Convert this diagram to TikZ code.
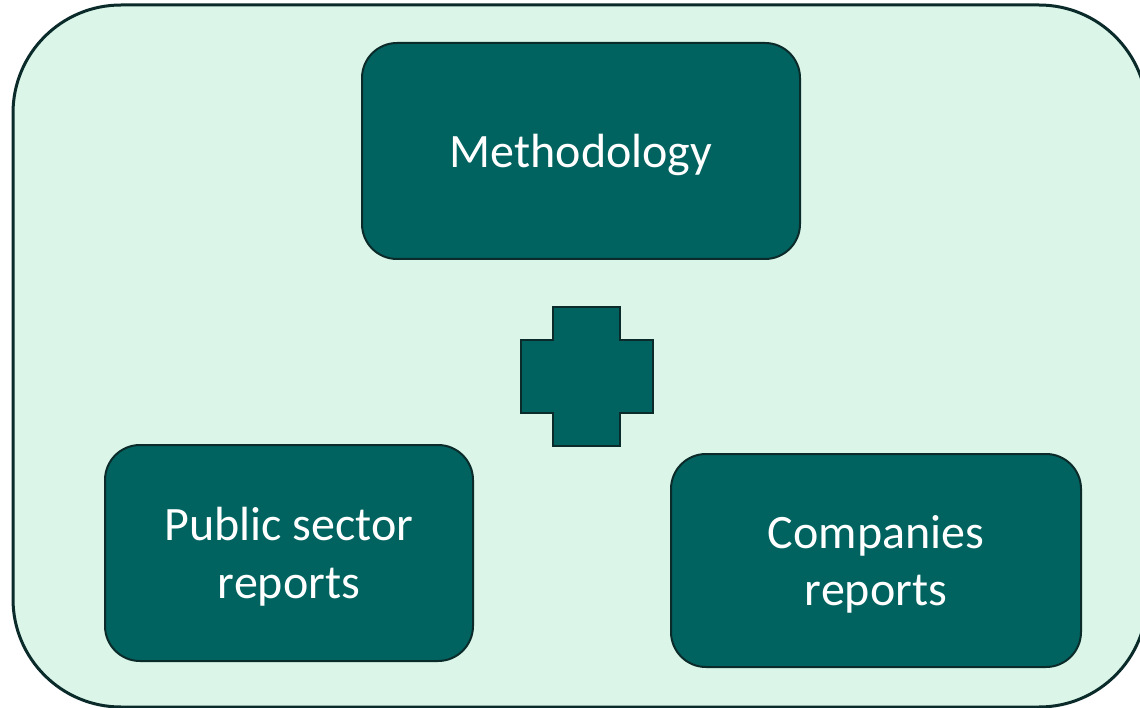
\documentclass[tikz,border=0pt]{standalone}
\usepackage{fontspec}
\setmainfont{Carlito}
\definecolor{teal}{HTML}{00635F}
\definecolor{edge}{HTML}{0B2B2B}
\definecolor{mint}{HTML}{DBF6E9}
\tikzset{
  box/.style={draw=edge, line width=2pt, fill=teal, rounded corners=35pt,
    text=white, align=center, inner sep=0pt, text depth=0pt,
    font=\fontsize{48}{57.6}\selectfont},
}
\begin{document}
\begin{tikzpicture}[x=1pt,y=-1pt]
\useasboundingbox (0,0) rectangle (1140,708);
\clip (0,0) rectangle (1140,708);
\fill[white] (0,0) rectangle (1140,708);
\draw[edge, line width=3pt, fill=mint, rounded corners=108pt] (13,5) rectangle (1147,707);
\node[box, minimum width=438pt, minimum height=216pt] (meth) at (581,151) {Methodology};
\node[box, minimum width=368pt, minimum height=216pt] (pub) at (289,553) {Public sector\\reports};
\node[box, minimum width=410pt, minimum height=213pt] (comp) at (876,560.5) {Companies\\reports};
\draw[edge, line width=2pt, fill=teal] (553,307) -- (620,307) -- (620,340) -- (653,340) -- (653,413) -- (620,413) -- (620,446) -- (553,446) -- (553,413) -- (521,413) -- (521,340) -- (553,340) -- cycle;
\end{tikzpicture}
\end{document}
